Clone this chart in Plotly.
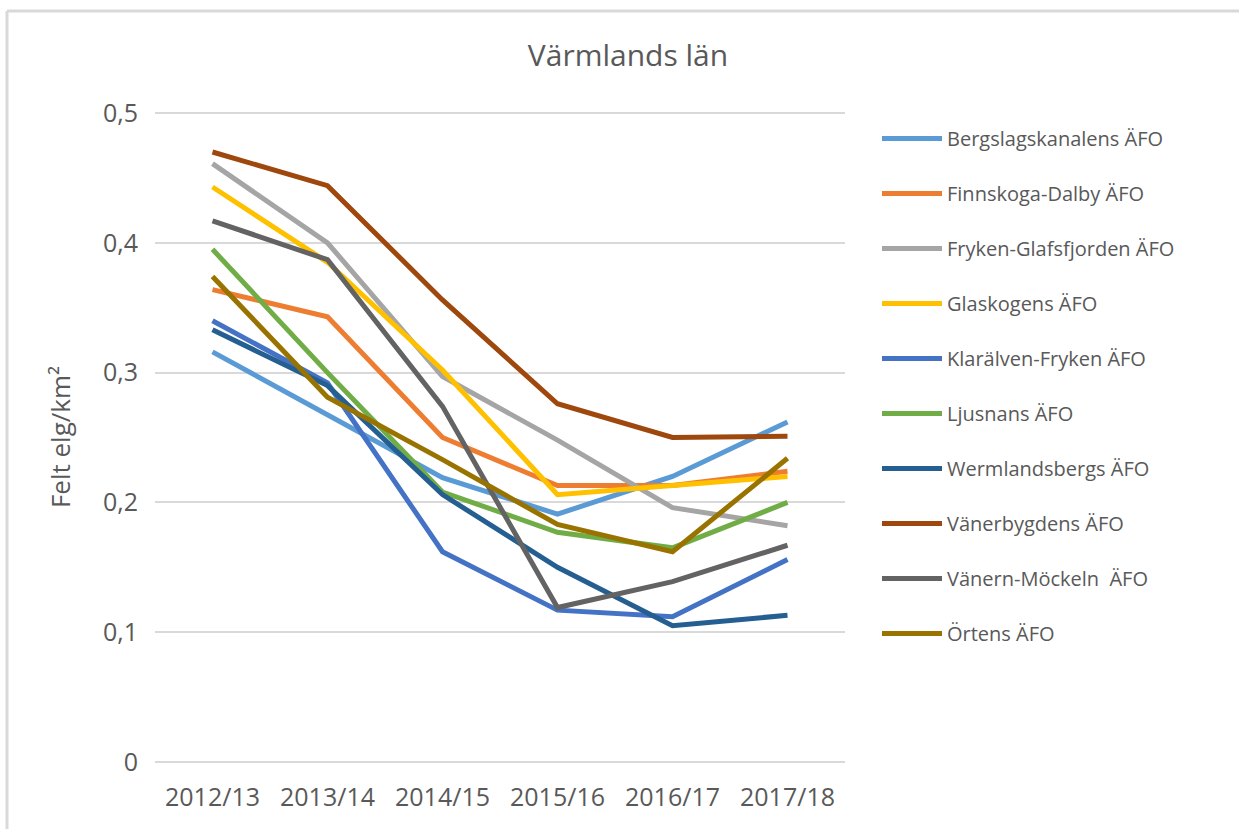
import plotly.graph_objects as go

seasons = ["2012/13", "2013/14", "2014/15", "2015/16", "2016/17", "2017/18"]

bergslagskanalens = [0.316, 0.268, 0.219, 0.191, 0.220, 0.262]
finnskoga_dalby = [0.364, 0.343, 0.250, 0.213, 0.213, 0.224]
fryken_glafsfjorden = [0.461, 0.400, 0.297, 0.248, 0.196, 0.182]
glaskogens = [0.443, 0.385, 0.302, 0.206, 0.213, 0.220]
klaralven_fryken = [0.340, 0.292, 0.162, 0.117, 0.112, 0.156]
ljusnans = [0.395, 0.300, 0.208, 0.177, 0.165, 0.200]
wermlandsbergs = [0.333, 0.290, 0.206, 0.150, 0.105, 0.113]
vanerbygdens = [0.470, 0.444, 0.356, 0.276, 0.250, 0.251]
vanern_mockeln = [0.417, 0.387, 0.274, 0.119, 0.139, 0.167]
ortens = [0.374, 0.281, 0.233, 0.183, 0.162, 0.234]

series_names = [
    "Bergslagskanalens ÄFO", "Finnskoga-Dalby ÄFO", "Fryken-Glafsfjorden ÄFO",
    "Glaskogens ÄFO", "Klarälven-Fryken ÄFO", "Ljusnans ÄFO",
    "Wermlandsbergs ÄFO", "Vänerbygdens ÄFO", "Vänern-Möckeln  ÄFO", "Örtens ÄFO",
]
series_values = [
    bergslagskanalens, finnskoga_dalby, fryken_glafsfjorden, glaskogens,
    klaralven_fryken, ljusnans, wermlandsbergs, vanerbygdens, vanern_mockeln, ortens,
]
colors = ["#5B9BD5", "#ED7D31", "#A5A5A5", "#FFC000", "#4472C4",
          "#70AD47", "#255E91", "#9E480E", "#636363", "#997300"]

y_tickvals = [0, 0.1, 0.2, 0.3, 0.4, 0.5]
y_ticktext = ["0", "0,1", "0,2", "0,3", "0,4", "0,5"]

fig = go.Figure()
for i, (name, vals, col) in enumerate(zip(series_names, series_values, colors)):
    fig.add_trace(go.Scatter(
        x=seasons, y=vals, name=name, mode="lines",
        line=dict(color=col, width=5),
        legendgroup=f"g{i}",
    ))

W, H = 1239, 829
L, R, T, B = 155, 845, 112, 762
PW, PH = R - L, B - T
fig.update_layout(
    width=W, height=H,
    margin=dict(l=L, r=W - R, t=T, b=H - B),
    paper_bgcolor="white", plot_bgcolor="white",
    title=dict(text="Värmlands län", x=628 / W, xanchor="center",
               y=1 - 55 / H, yanchor="middle",
               font=dict(family="Open Sans", size=30, color="#595959")),
    font=dict(family="Open Sans", color="#595959"),
    legend=dict(x=(877 - L) / PW, xanchor="left", y=1 + (T - 119) / PH, yanchor="top",
                font=dict(family="Open Sans", size=20, color="#595959"),
                traceorder="grouped", tracegroupgap=26, itemwidth=60,
                maxheight=760,
                bgcolor="rgba(0,0,0,0)"),
    showlegend=True,
    xaxis=dict(type="category", range=[-0.5, 5.5], showgrid=False, zeroline=False,
               showline=False, ticks="", ticklabelstandoff=18,
               tickfont=dict(family="Open Sans", size=25, color="#595959")),
    yaxis=dict(range=[0, 0.5008], tickvals=y_tickvals, ticktext=y_ticktext,
               showgrid=True, gridcolor="#D9D9D9", gridwidth=2,
               zeroline=True, zerolinecolor="#D9D9D9", zerolinewidth=2,
               showline=False, ticks="", ticklabelstandoff=16,
               tickfont=dict(family="Open Sans", size=25, color="#595959"),
               title=dict(text="Felt elg/km²", standoff=24,
                          font=dict(family="Open Sans", size=26, color="#595959"))),
)

# outer frame (top and left edges)
x_left = (7 - L) / PW
y_top = (B - 11) / PH
fig.add_shape(type="line", xref="paper", yref="paper", x0=x_left, x1=(W - L) / PW,
              y0=y_top, y1=y_top, line=dict(color="#D9D9D9", width=3))
fig.add_shape(type="line", xref="paper", yref="paper", x0=x_left, x1=x_left,
              y0=y_top, y1=(B - H) / PH, line=dict(color="#D9D9D9", width=3))

fig.write_html("out.html", config={"displayModeBar": False},
               post_script="document.body.style.margin='0';document.body.style.overflow='hidden';")
